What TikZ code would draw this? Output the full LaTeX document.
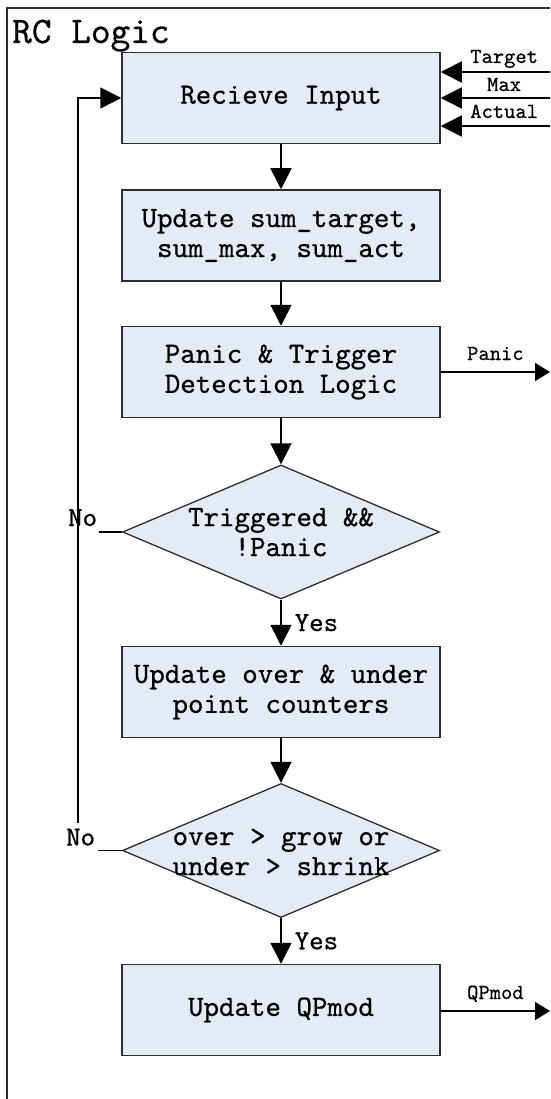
\documentclass[tikz,border=0pt]{standalone}
\usepackage{fontspec}
\usetikzlibrary{arrows.meta,shapes.geometric}
\newfontfamily\cmono{lmmono10-regular.otf}[FakeBold=0.6]
\definecolor{boxfill}{RGB}{228,235,246}
\definecolor{edgegray}{RGB}{45,45,45}
\newcommand{\mainsz}{\cmono\fontsize{29.5}{30}\selectfont}
\newcommand{\titlesz}{\cmono\fontsize{37.5}{40}\selectfont}
\newcommand{\smallsz}{\cmono\fontsize{21.5}{24}\selectfont}
\newcommand{\yesnosz}{\cmono\fontsize{27.5}{30}\selectfont}
\begin{document}
\begin{tikzpicture}[x=1pt,y=-1pt,
  proc/.style={draw=edgegray, line width=1.5pt, fill=boxfill, minimum width=318pt,
    minimum height=91pt, inner sep=0pt, align=center, font=\mainsz},
  dec/.style={draw=edgegray, line width=1.3pt, fill=boxfill, diamond,
    minimum width=317pt, minimum height=134pt, inner sep=0pt},
  dtext/.style={align=center, font=\mainsz, inner sep=0pt},
  flow/.style={draw=black, line width=1.6pt, -{Triangle[length=21pt,width=21pt]}},
  outflow/.style={draw=black, line width=1.6pt, -{Triangle[length=15pt,width=18pt]}},
  conn/.style={draw=black, line width=1.6pt},
  sig/.style={font=\smallsz, inner sep=0pt, anchor=base},
  yn/.style={font=\yesnosz, inner sep=0pt}
]
\useasboundingbox (0,0) rectangle (550,1099);
\fill[white] (0,0) rectangle (550,1099);
% outer frame
\draw[edgegray, line width=1.5pt] (7,1099) -- (7,8) -- (550,8);
\node[anchor=base west, inner sep=0pt, font=\titlesz] (title) at (12,43) {RC Logic};

% process boxes and decisions
\node[proc] (b1) at (281,98) {Recieve Input};
\node[proc] (b2) at (281,235.5) {Update sum\_target,\\sum\_max, sum\_act};
\node[proc] (b3) at (281,372) {Panic \& Trigger\\Detection Logic};
\node[dec] (d1) at (281,532) {};
\node[dtext] (d1t) at (281,532) {Triggered \&\&\\!Panic};
\node[proc] (b4) at (281,692) {Update over \& under\\point counters};
\node[dec] (d2) at (281,850.5) {};
\node[dtext] (d2t) at (281,852) {over > grow or\\under > shrink};
\node[proc] (b5) at (281,1010) {Update QPmod};

% main flow
\draw[flow] (b1) -- (b2);
\draw[flow] (b2) -- (b3);
\draw[flow] (b3) -- (d1);
\draw[flow] (d1) -- node[yn, anchor=west, xshift=13pt] {Yes} (b4);
\draw[flow] (b4) -- (d2);
\draw[flow] (d2) -- node[yn, anchor=west, xshift=13pt] {Yes} (b5);

% No branches
\draw[conn] (d1.west) -- ++(-23,0) node[yn, anchor=base east, xshift=-1pt, yshift=6pt] {No};
\draw[conn] (d2.west) -- ++(-24,0) node[yn, anchor=base east, xshift=-2pt, yshift=5pt] {No};
\coordinate (loopEnd) at (78,823);
\draw[flow] (loopEnd) |- (b1.west);

% inputs
\coordinate (inT) at (550,72);
\coordinate (inM) at (550,98);
\coordinate (inA) at (550,126);
\draw[flow] (inT) -- node[sig, pos=0.42, yshift=9pt] {Target} (inT -| b1.east);
\draw[flow] (inM) -- node[sig, pos=0.42, yshift=7pt] {Max} (inM -| b1.east);
\draw[flow] (inA) -- node[sig, pos=0.42, yshift=8pt] {Actual} (inA -| b1.east);

% outputs
\coordinate (outP) at (550,372);
\coordinate (outQ) at (550,1011);
\draw[outflow] (b3.east) -- node[sig, midway, yshift=12pt] {Panic} (outP);
\draw[outflow] (b5.east |- outQ) -- node[sig, midway, yshift=12pt] {QPmod} (outQ);
\end{tikzpicture}
\end{document}
